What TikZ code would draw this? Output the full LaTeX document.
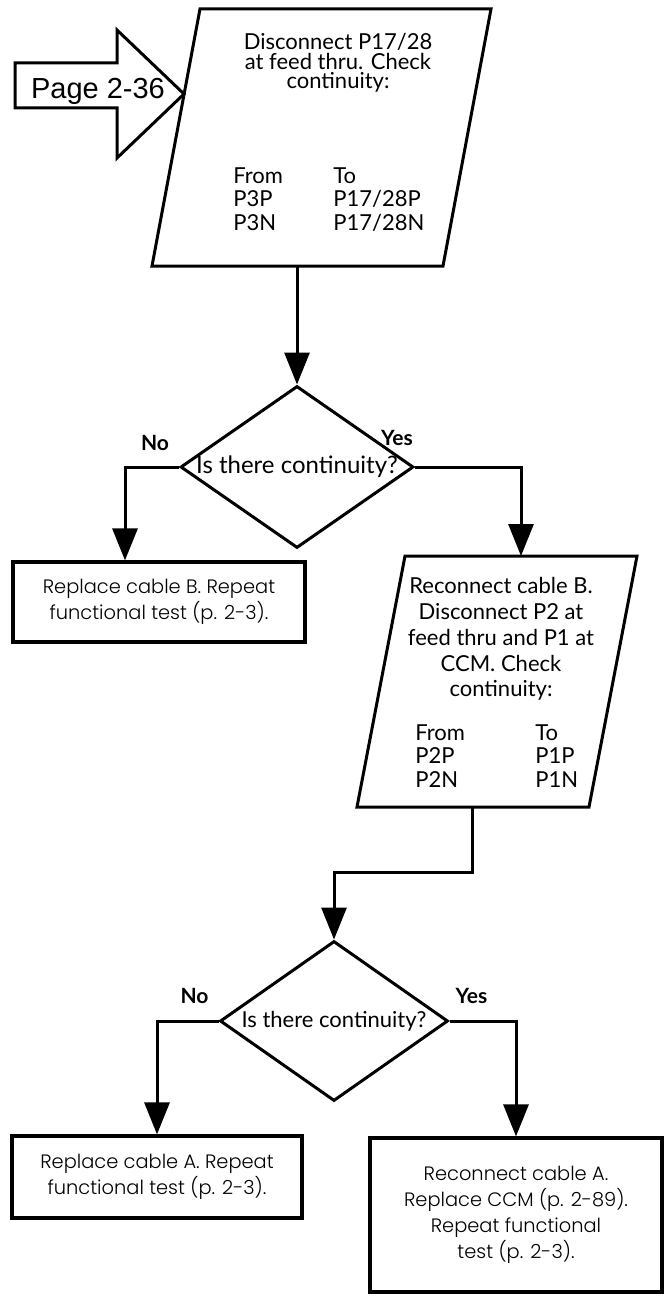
\documentclass[tikz,border=0pt]{standalone}
\usepackage{fontspec}
\setmainfont{Lato}
\newfontfamily\thinfont{Poppins Light}
\newfontfamily\pagefont{Liberation Sans}
\usetikzlibrary{arrows.meta, positioning, shapes.geometric}

\begin{document}
\begin{tikzpicture}[
  x=0.5pt, y=-0.5pt,
  flow/.style={draw, line width=1.5pt, -{Triangle[width=12.5pt,length=16pt]}},
  outline/.style={draw, line width=1.5pt, line join=miter},
  decision/.style={diamond, draw, line width=1.5pt, inner sep=0pt, font=\fontsize{11}{12}\selectfont},
  result/.style={rectangle, draw, line width=1.6pt, inner sep=0pt, align=center, font=\thinfont\fontsize{9.7}{13}\selectfont},
  steptext/.style={align=center, inner sep=0pt, anchor=north, font=\fontsize{11}{9.75}\selectfont},
  column/.style={align=left, inner sep=0pt, anchor=north west, font=\fontsize{11}{11.75}\selectfont},
  answer/.style={inner sep=0pt, font=\bfseries\fontsize{10.5}{12}\selectfont}
  ]
\useasboundingbox (0,0) rectangle (665,1300);

% Entry arrow
\draw[outline] (15,63) -- (117,63) -- (117,30) -- (184,94) -- (117,158) -- (117,108) -- (15,108) -- cycle;
\node[inner sep=0pt, font=\pagefont\fontsize{14.5}{15}\selectfont] (page) at (98,91) {Page 2-36};

% First check (parallelogram)
\draw[outline] (200,9) -- (491,9) -- (443,266) -- (152,266) -- cycle;
\coordinate (p1out) at (297,266);
\node[steptext] (p1text) at (338,33) {Disconnect P17/28\\at feed thru. Check\\continuity:};
\node[column] (p1from) at (233,167) {From\\P3P\\P3N};
\node[column] (p1to) at (333,167) {To\\P17/28P\\P17/28N};

% First decision
\node[decision, minimum width=116.5pt, minimum height=81pt] (q1) at (297,467)
  {\makebox[0pt]{\fontsize{12}{13}\selectfont Is there continuity?}};
\node[answer] (q1no) at ([shift={(-24,-24)}]q1.west) {No};
\node[answer] (q1yes) at ([shift={(-18,-29)}]q1.east) {Yes};

\node[result, minimum width=146pt, minimum height=40pt] (r1) at (159,602)
  {Replace cable B. Repeat\\functional test (p. 2-3).};

% Second check (parallelogram)
\draw[outline] (405,556) -- (637,556) -- (589,807) -- (357,807) -- cycle;
\coordinate (p2in) at (521,556);
\coordinate (p2out) at (472,807);
\node[steptext, font=\fontsize{11}{12.9}\selectfont] (p2text) at (501,577)
  {Reconnect cable B.\\Disconnect P2 at\\feed thru and P1 at\\CCM. Check\\continuity:};
\node[column] (p2from) at (415,724) {From\\P2P\\P2N};
\node[column] (p2to) at (535,724) {To\\P1P\\P1N};

% Second decision
\node[decision, minimum width=114pt, minimum height=80pt] (q2) at (334,1021)
  {\makebox[0pt]{Is there continuity?}};
\node[answer] (q2no) at ([shift={(-24,-25)}]q2.west) {No};
\node[answer] (q2yes) at ([shift={(22,-25)}]q2.east) {Yes};

\node[result, minimum width=145pt, minimum height=41pt] (r3) at (157,1177)
  {Replace cable A. Repeat\\functional test (p. 2-3).};
\node[result, minimum width=146pt, minimum height=77pt] (r4) at (516,1215)
  {Reconnect cable A.\\Replace CCM (p. 2-89).\\Repeat functional\\test (p. 2-3).};

% Connectors
\draw[flow] (p1out) -- (q1.north);
\draw[flow] (q1.west) -| ([xshift=-17pt]r1.north);
\draw[flow] (q1.east) -| (p2in);
\draw[flow] (p2out) -- ++(0,65) -| (q2.north);
\draw[flow] (q2.west) -| (r3.north);
\draw[flow] (q2.east) -| (r4.north);

\end{tikzpicture}
\end{document}
